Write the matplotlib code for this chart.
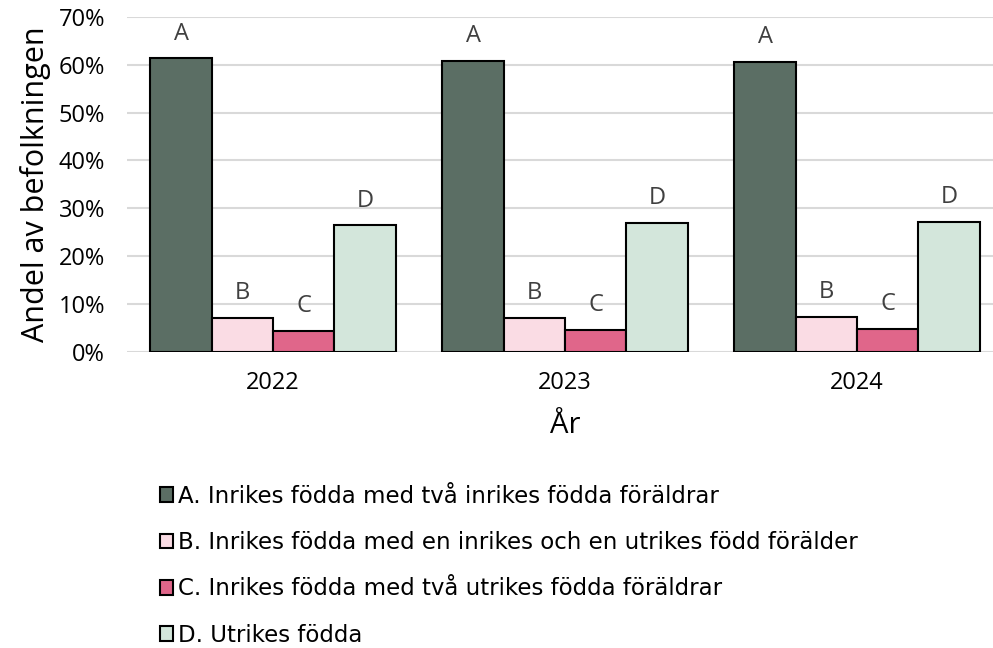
import matplotlib
matplotlib.use("Agg")
import matplotlib.pyplot as plt
import numpy as np
from matplotlib.ticker import FuncFormatter

years = ["2022", "2023", "2024"]
series_labels = [
    "A. Inrikes födda med två inrikes födda föräldrar",
    "B. Inrikes födda med en inrikes och en utrikes född förälder",
    "C. Inrikes födda med två utrikes födda föräldrar",
    "D. Utrikes födda",
]
short_labels = ["A", "B", "C", "D"]
values_A = [0.614, 0.608, 0.606]
values_B = [0.071, 0.071, 0.073]
values_C = [0.044, 0.046, 0.048]
values_D = [0.265, 0.270, 0.272]
colors = ["#5B6E64", "#FADCE4", "#E0668A", "#D3E6DB"]

all_values = [values_A, values_B, values_C, values_D]

fig = plt.figure(figsize=(9.93, 6.48), dpi=100)
ax = fig.add_axes([0.128, 0.457, 1003/993 - 0.128, 0.974 - 0.457])

x = np.arange(len(years))
bw = 0.21
offsets = (np.arange(4) - 1.5) * bw
handles = []
for i, vals in enumerate(all_values):
    bars = ax.bar(x + offsets[i], vals, width=bw, color=colors[i],
                  edgecolor="black", linewidth=1.5, label=series_labels[i], zorder=3)
    handles.append(bars)
    for b in bars:
        ax.annotate(short_labels[i], (b.get_x() + b.get_width() / 2, b.get_height()),
                    xytext=(0, 9), textcoords="offset points", ha="center", va="bottom",
                    fontsize=17, color="#404040", family="Open Sans")

ax.set_xlim(-0.5, 2.5)
ax.set_ylim(0, 0.7)
ax.set_yticks(np.arange(0, 0.71, 0.1))
ax.yaxis.set_major_formatter(FuncFormatter(lambda v, p: f"{v*100:.0f}%"))
ax.grid(axis="y", color="#d9d9d9", linewidth=1.5, zorder=0)
ax.set_axisbelow(True)
for s in ax.spines.values():
    s.set_visible(False)
ax.tick_params(axis="both", length=0, labelsize=17, colors="black")
ax.tick_params(axis="y", pad=16)
ax.tick_params(axis="x", pad=14)
ax.set_xticks(x)
ax.set_xticklabels(years, family="Open Sans")
for t in ax.get_yticklabels():
    t.set_family("Open Sans")
ax.set_ylabel("Andel av befolkningen", fontsize=22, family="Open Sans", labelpad=5)
ax.set_xlabel("År", fontsize=21, family="Open Sans", labelpad=11)

fig.legend(handles=handles, labels=series_labels, loc="upper left",
           bbox_to_anchor=(0.14, 0.284), frameon=False,
           prop={"family": ["DejaVu Sans"], "size": 16.5},
           handlelength=0.6, handleheight=0.6, handletextpad=0.2, labelspacing=1.02)

fig.savefig("out.png", dpi=100)
